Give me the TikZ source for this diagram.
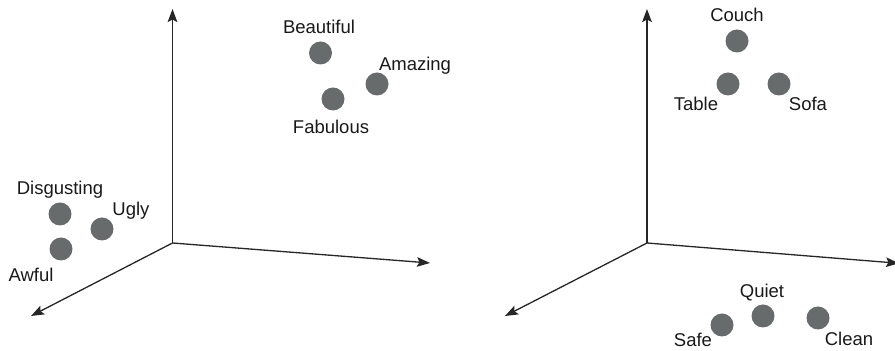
\documentclass[tikz,border=0pt]{standalone}
\usepackage{fontspec}
\setmainfont{Liberation Sans}
\usepackage{xcolor}
\usetikzlibrary{positioning, calc, arrows.meta}

\definecolor{dotgray}{RGB}{104,107,107}
\definecolor{txtgray}{RGB}{25,25,25}

\begin{document}
\begin{tikzpicture}[
    x=0.5pt, y=-0.5pt,
    >={Stealth[length=6.5pt, width=4.8pt, inset=1.2pt]},
    axis/.style={->, line width=0.65pt, color=black!85},
    dot/.style={circle, fill=dotgray, minimum size=11.5pt, inner sep=0pt},
    word/.style={font=\fontsize{9.25}{11}\selectfont, color=txtgray, text height=1.55ex, text depth=0.35ex, inner sep=0pt},
]
\useasboundingbox (0,0) rectangle (895,351);

% ===== Left axes =====
\coordinate (lo) at (172.5,243);
\coordinate (lup) at (172.5,9);
\coordinate (lright) at (430,263);
\coordinate (ldown) at (31,316);
\draw[axis] (lo) -- (lup);
\draw[axis] (lo) -- (lright);
\draw[axis] (lo) -- (ldown);

% ===== Positive words =====
\node[dot] (beau) at (320.5,53) {};
\node[dot] (amaz) at (377,84) {};
\node[dot] (fabu) at (333,99) {};
\node[word] at ($(beau)+(-1.5,-26)$) {Beautiful};
\node[word] at ($(amaz)+(38,-20)$) {Amazing};
\node[word] at ($(fabu)+(-2,28)$) {Fabulous};

% ===== Negative words =====
\node[dot] (disg) at (60,214) {};
\node[dot] (ugly) at (102,229) {};
\node[dot] (awfu) at (61,249) {};
\node[word] at ($(disg)+(0,-26)$) {Disgusting};
\node[word] at ($(ugly)+(29,-20)$) {Ugly};
\node[word] at ($(awfu)+(-30,26)$) {Awful};

% ===== Right axes =====
\coordinate (ro) at (647,243);
\coordinate (rup) at (647,9);
\coordinate (rright) at (899,263.3);
\coordinate (rdown) at (505,316);
\draw[axis] (ro) -- (rup);
\draw[axis] (ro) -- (rright);
\draw[axis] (ro) -- (rdown);

% ===== Furniture =====
\node[dot] (couch) at (737,41) {};
\node[dot] (table) at (728,84) {};
\node[dot] (sofa) at (779,84) {};
\node[word] at ($(couch)+(0,-26)$) {Couch};
\node[word] at ($(table)+(-32,20)$) {Table};
\node[word] at ($(sofa)+(29,20)$) {Sofa};

% ===== Neighbourhood =====
\node[dot] (quiet) at (763,316) {};
\node[dot] (safe) at (722,325) {};
\node[dot] (clean) at (818,318) {};
\node[word] at ($(quiet)+(-1,-25)$) {Quiet};
\node[word] at ($(safe)+(-29,15)$) {Safe};
\node[word] at ($(clean)+(31,21)$) {Clean};

\end{tikzpicture}
\end{document}
